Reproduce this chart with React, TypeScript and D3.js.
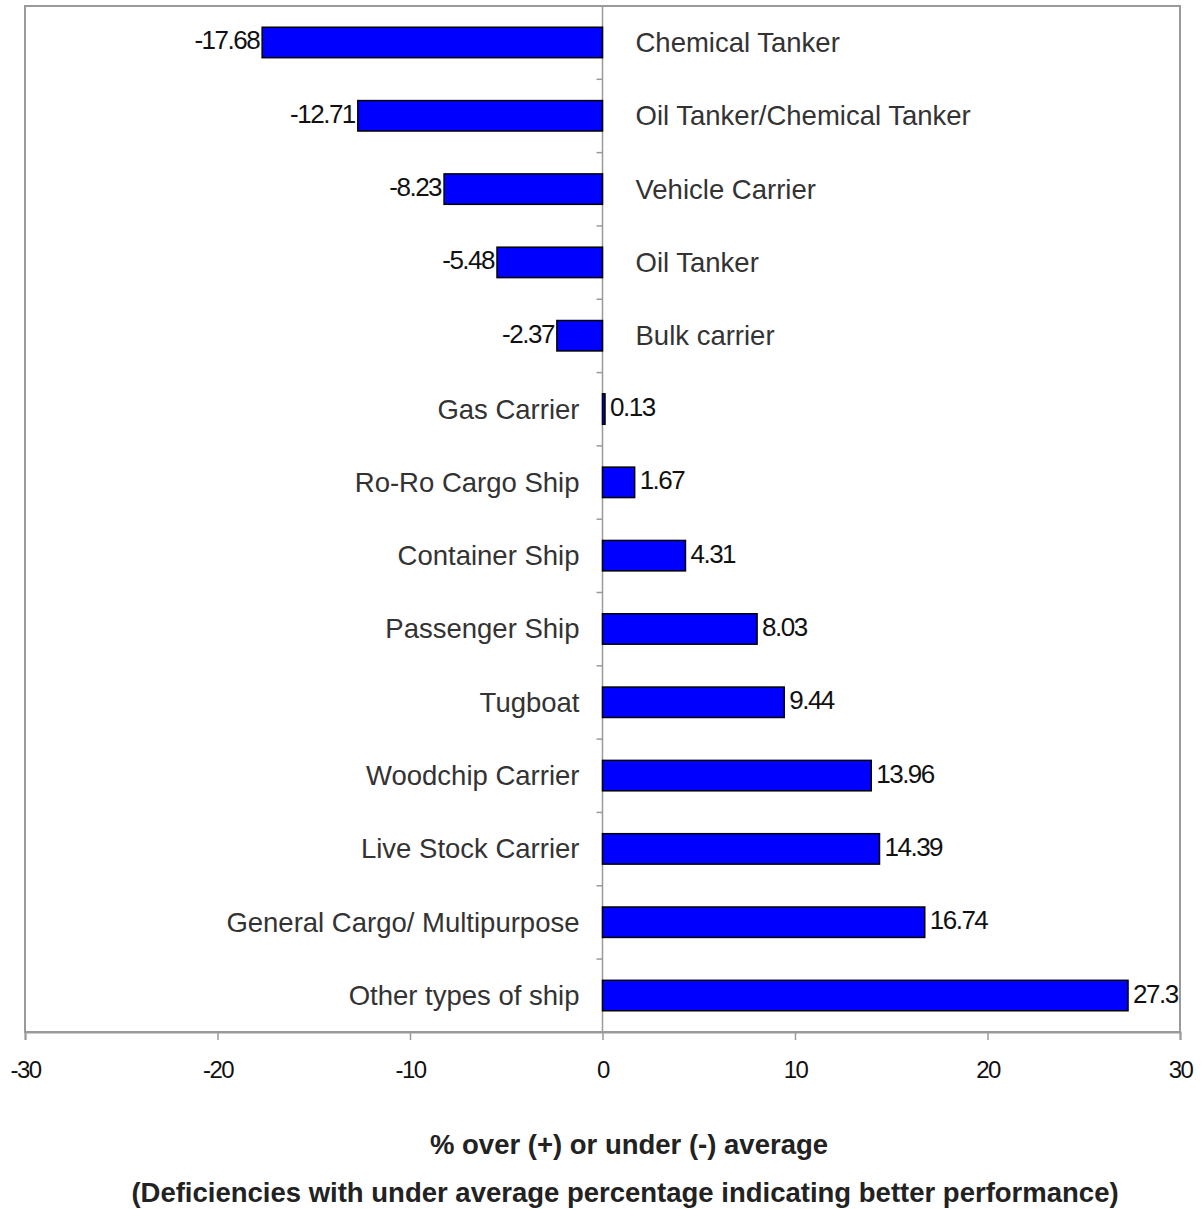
import React, { useRef, useEffect } from 'react';
import * as d3 from 'd3';

// Ship types, top to bottom
const categories = [
  'Chemical Tanker',
  'Oil Tanker/Chemical Tanker',
  'Vehicle Carrier',
  'Oil Tanker',
  'Bulk carrier',
  'Gas Carrier',
  'Ro-Ro Cargo Ship',
  'Container Ship',
  'Passenger Ship',
  'Tugboat',
  'Woodchip Carrier',
  'Live Stock Carrier',
  'General Cargo/ Multipurpose',
  'Other types of ship',
];

const values = [
  -17.68, -12.71, -8.23, -5.48, -2.37, 0.13, 1.67, 4.31, 8.03, 9.44, 13.96, 14.39, 16.74, 27.3,
];

const xTicks = [-30, -20, -10, 0, 10, 20, 30];

const xTitle = '% over (+) or under (-) average';
const subTitle = '(Deficiencies with under average percentage indicating better performance)';

const App: React.FC = () => {
  const svgRef = useRef<SVGSVGElement>(null);

  useEffect(() => {
    if (!svgRef.current) return;
    const width = 1204;
    const height = 1209;
    const margin = { top: 6, right: 24, bottom: 177, left: 25 };
    const innerWidth = width - margin.left - margin.right;
    const innerHeight = height - margin.top - margin.bottom;
    const font = 'Liberation Sans, Arial, sans-serif';

    const svg = d3.select(svgRef.current);
    svg.selectAll('*').remove();

    const g = svg.append('g').attr('transform', `translate(${margin.left},${margin.top})`);

    const x = d3.scaleLinear().domain([-30, 30]).range([0, innerWidth]);
    const y = d3.scaleBand<string>().domain(categories).range([0, innerHeight]).paddingInner(0.585).paddingOuter(0.29);
    const step = y.step();

    // plot frame
    g.append('rect')
      .attr('x', 0)
      .attr('y', 0)
      .attr('width', innerWidth)
      .attr('height', innerHeight)
      .attr('fill', 'none')
      .attr('stroke', '#9a9a9a')
      .attr('stroke-width', 2);

    // zero line with category ticks between rows
    g.append('line')
      .attr('x1', x(0))
      .attr('x2', x(0))
      .attr('y1', 0)
      .attr('y2', innerHeight)
      .attr('stroke', '#9a9a9a')
      .attr('stroke-width', 1.5);

    d3.range(1, categories.length).forEach(i => {
      g.append('line')
        .attr('x1', x(0) - 6)
        .attr('x2', x(0))
        .attr('y1', i * step)
        .attr('y2', i * step)
        .attr('stroke', '#9a9a9a')
        .attr('stroke-width', 1.5);
    });

    // bottom axis
    const xAxis = g.append('g')
      .attr('transform', `translate(0,${innerHeight})`)
      .call(d3.axisBottom(x).tickValues(xTicks).tickSize(8).tickPadding(21).tickFormat(d => String(d)));
    xAxis.select('.domain').attr('stroke', '#9a9a9a').attr('stroke-width', 2);
    xAxis.selectAll('.tick line').attr('stroke', '#9a9a9a').attr('stroke-width', 1.5);
    xAxis.selectAll('.tick text')
      .attr('font-family', font)
      .attr('font-size', 24)
      .attr('letter-spacing', -1.5)
      .attr('fill', '#111');

    // bars
    g.selectAll('.bar')
      .data(values)
      .enter()
      .append('rect')
      .attr('class', 'bar')
      .attr('x', d => x(Math.min(0, d)))
      .attr('y', (_, i) => y(categories[i]) as number)
      .attr('width', d => Math.abs(x(d) - x(0)))
      .attr('height', y.bandwidth())
      .attr('fill', '#0000ff')
      .attr('stroke', '#000')
      .attr('stroke-width', 1.5);

    // value labels
    g.selectAll('.val')
      .data(values)
      .enter()
      .append('text')
      .attr('class', 'val')
      .attr('x', d => (d < 0 ? x(d) - 3 : x(d) + 5))
      .attr('y', (_, i) => (y(categories[i]) as number) + y.bandwidth() / 2 + 7)
      .attr('text-anchor', d => (d < 0 ? 'end' : 'start'))
      .attr('font-family', font)
      .attr('font-size', 26)
      .attr('letter-spacing', -1.5)
      .attr('fill', '#111')
      .text(d => String(d));

    // category labels
    g.selectAll('.cat')
      .data(categories)
      .enter()
      .append('text')
      .attr('class', 'cat')
      .attr('x', (_, i) => (values[i] < 0 ? x(0) + 33 : x(0) - 23))
      .attr('y', d => (y(d) as number) + y.bandwidth() / 2 + 9.5)
      .attr('text-anchor', (_, i) => (values[i] < 0 ? 'start' : 'end'))
      .attr('font-family', font)
      .attr('font-size', 27.5)
      .attr('fill', '#333')
      .text(d => d);

    // titles
    svg.append('text')
      .attr('x', 629)
      .attr('y', 1154)
      .attr('text-anchor', 'middle')
      .attr('font-family', font)
      .attr('font-size', 27.5)
      .attr('font-weight', 'bold')
      .attr('fill', '#222')
      .text(xTitle);

    svg.append('text')
      .attr('x', 625)
      .attr('y', 1202)
      .attr('text-anchor', 'middle')
      .attr('font-family', font)
      .attr('font-size', 27.5)
      .attr('font-weight', 'bold')
      .attr('fill', '#222')
      .text(subTitle);
  }, []);

  return (
    <svg
      ref={svgRef}
      width={1204}
      height={1209}
      style={{ position: 'absolute', left: 0, top: 0, background: '#fff' }}
    />
  );
};

export default App;
